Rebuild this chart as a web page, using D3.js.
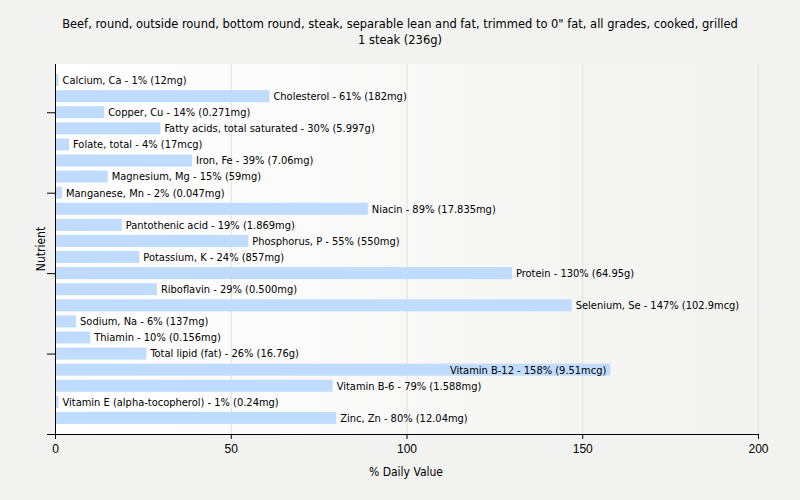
<!DOCTYPE html>
<html><head><meta charset="utf-8">
<script src="https://cdn.jsdelivr.net/npm/d3@7"></script>
<style>body{margin:0;background:#f2f2f1;} svg{display:block;font-family:Tahoma,"DejaVu Sans Condensed","Liberation Sans",sans-serif;}</style>
</head><body><svg id="c" width="800" height="500"></svg>
<script>
const titleLines = ["Beef, round, outside round, bottom round, steak, separable lean and fat, trimmed to 0\" fat, all grades, cooked, grilled", "1 steak (236g)"];
const nutrients = ["Calcium, Ca","Cholesterol","Copper, Cu","Fatty acids, total saturated","Folate, total","Iron, Fe","Magnesium, Mg","Manganese, Mn","Niacin","Pantothenic acid","Phosphorus, P","Potassium, K","Protein","Riboflavin","Selenium, Se","Sodium, Na","Thiamin","Total lipid (fat)","Vitamin B-12","Vitamin B-6","Vitamin E (alpha-tocopherol)","Zinc, Zn"];
const dv = [1,61,14,30,4,39,15,2,89,19,55,24,130,29,147,6,10,26,158,79,1,80];
const amounts = ["12mg","182mg","0.271mg","5.997g","17mcg","7.06mg","59mg","0.047mg","17.835mg","1.869mg","550mg","857mg","64.95g","0.500mg","102.9mcg","137mg","0.156mg","16.76g","9.51mcg","1.588mg","0.24mg","12.04mg"];
const xTicks = [0,50,100,150,200];
const yTickIdx = [2,7,12,17];

const svg = d3.select("#c");
const L=55, R=758, T=64, B=434;
const x = d3.scaleLinear().domain([0,200]).range([L,R]);
const y = d3.scalePoint().domain(nutrients).range([T,B]).padding(1);

const defs = svg.append("defs");
const g = defs.append("linearGradient").attr("id","bg").attr("x1","0").attr("x2","1").attr("y1","0").attr("y2","0");
g.append("stop").attr("offset","0").attr("stop-color","#ffffff");
g.append("stop").attr("offset","1").attr("stop-color","#f2f2f1");
svg.append("rect").attr("x",L).attr("y",T).attr("width",R-L).attr("height",B-T).attr("fill","url(#bg)");

svg.selectAll("line.grid").data(xTicks.slice(1)).join("line").attr("class","grid")
  .attr("x1",d=>x(d)+0.5).attr("x2",d=>x(d)+0.5).attr("y1",T).attr("y2",B)
  .attr("stroke","#e0e0e0").attr("stroke-width",1);

svg.selectAll("text.title").data(titleLines).join("text").attr("class","title")
  .attr("x",400).attr("y",(d,i)=>28+i*16).attr("text-anchor","middle")
  .attr("font-size",12.75).attr("fill","#000").text(d=>d);

const bh = 12;
svg.selectAll("rect.bar").data(nutrients).join("rect").attr("class","bar")
  .attr("x",x(0)).attr("y",d=>y(d)-bh/2).attr("width",(d,i)=>x(dv[i])-x(0)).attr("height",bh)
  .attr("fill","#bfdbfd");

svg.selectAll("text.lab").data(nutrients).join("text").attr("class","lab")
  .attr("font-size",11).attr("fill","#000").attr("dy","0.35em")
  .attr("y",d=>y(d))
  .text((d,i)=>`${d} - ${dv[i]}% (${amounts[i]})`)
  .each(function(d,i){
    const w = this.getComputedTextLength();
    const xe = x(dv[i]);
    if (xe + 4 + w > R) { d3.select(this).attr("x", xe - 4).attr("text-anchor","end"); }
    else { d3.select(this).attr("x", xe + 4); }
  });

const xa = svg.append("g").attr("transform",`translate(0,${B})`)
  .call(d3.axisBottom(x).tickValues(xTicks).tickSize(5).tickSizeOuter(0));
xa.select(".domain").remove();
xa.selectAll("text").attr("font-size",12).attr("fill","#000").attr("font-family","inherit").attr("dy","0.9em");
xa.selectAll("line").attr("stroke","#000");
svg.append("line").attr("x1",L-8).attr("x2",R+1).attr("y1",B+0.5).attr("y2",B+0.5).attr("stroke","#000");

const ya = svg.append("g").attr("transform",`translate(${L},0)`)
  .call(d3.axisLeft(y).tickValues(yTickIdx.map(i=>nutrients[i])).tickSize(8).tickFormat(""));
ya.select(".domain").remove();
ya.selectAll("line").attr("stroke","#000");
svg.append("line").attr("x1",L+0.5).attr("x2",L+0.5).attr("y1",T).attr("y2",B+5).attr("stroke","#000");

svg.append("text").attr("x",406).attr("y",476).attr("text-anchor","middle").attr("font-size",12).text("% Daily Value");
svg.append("text").attr("transform","translate(45,249) rotate(-90)").attr("text-anchor","middle").attr("font-size",12).text("Nutrient");
</script></body></html>
